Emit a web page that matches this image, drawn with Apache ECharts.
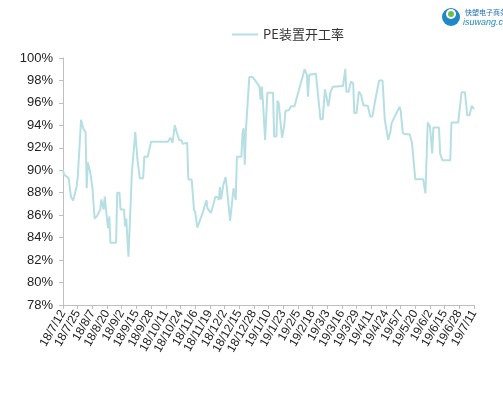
<!DOCTYPE html>
<html>
<head>
<meta charset="utf-8">
<script src="https://cdn.jsdelivr.net/npm/echarts@6/dist/echarts.min.js"></script>
<style>
  html, body { margin: 0; padding: 0; background: #fff; }
  #chart { width: 503px; height: 397px; }
</style>
</head>
<body>
<div id="chart"></div>
<script>
// x-axis tick labels, one every 13 days from 2018-07-12
const tickLabels = [
  "18/7/12", "18/7/25", "18/8/7", "18/8/20", "18/9/2", "18/9/15", "18/9/28",
  "18/10/11", "18/10/24", "18/11/6", "18/11/19", "18/12/2", "18/12/15", "18/12/28",
  "19/1/10", "19/1/23", "19/2/5", "19/2/18", "19/3/3", "19/3/16", "19/3/29",
  "19/4/11", "19/4/24", "19/5/7", "19/5/20", "19/6/2", "19/6/15", "19/6/28", "19/7/11"
];

// days since 2018-07-12
const days = [
  0, 1, 5, 7, 9, 12, 13, 14, 16, 18, 20, 21, 22, 24, 26, 28, 30, 33, 34, 35,
  36, 37, 39, 40, 41, 42, 44, 45, 47, 48, 50, 51, 54, 55, 56, 58, 61, 64, 66, 68,
  71, 72, 75, 78, 93, 95, 97, 99, 101, 103, 105, 106, 107, 110, 111, 114, 116, 117, 119, 120,
  124, 125, 127, 128, 131, 133, 135, 137, 138, 139, 140, 142, 144, 145, 148, 151, 153, 154, 158, 159,
  160, 161, 162, 165, 168, 171, 174, 175, 176, 177, 179, 181, 186, 187, 189, 190, 191, 194, 196, 197,
  200, 202, 205, 214, 216, 217, 218, 224, 225, 228, 230, 232, 233, 235, 237, 239, 248, 250, 251, 253,
  255, 257, 258, 260, 262, 264, 266, 270, 272, 274, 277, 278, 280, 283, 285, 288, 290, 291, 292, 298,
  299, 300, 301, 304, 307, 309, 312, 319, 321, 322, 323, 325, 327, 328, 333, 334, 335, 336, 343, 344,
  350, 353, 356, 358, 360, 362, 364
];

// PE装置开工率 (%)
const rates = [
  90.0, 89.6, 89.3, 87.65, 87.3, 88.5, 89.3, 89.3, 94.5, 93.7, 93.4, 88.4, 90.7, 89.9, 88.5, 85.7, 85.9, 86.5, 87.4, 86.9,
  86.5, 87.65, 85.6, 84.85, 85.9, 83.55, 83.55, 83.65, 83.55, 88.0, 88.0, 86.5, 86.5, 85.0, 85.7, 82.3, 89.8, 93.4, 90.9, 89.3,
  89.3, 91.2, 91.2, 92.55, 92.55, 92.9, 92.45, 94.0, 93.3, 92.7, 92.65, 92.35, 92.45, 92.45, 89.2, 89.15, 86.5, 86.3, 84.9, 84.9,
  86.3, 86.3, 87.35, 86.6, 86.2, 86.9, 87.65, 87.6, 87.35, 88.5, 87.4, 88.7, 89.4, 88.6, 85.5, 88.4, 87.35, 91.2, 91.2, 93.3,
  93.75, 90.5, 93.6, 98.3, 98.3, 97.9, 97.45, 96.3, 97.45, 96.25, 92.7, 96.9, 96.9, 93.0, 93.0, 96.2, 96.0, 92.9, 94.0, 95.3,
  95.35, 95.7, 95.7, 99.0, 98.5, 96.55, 98.5, 98.6, 98.55, 94.55, 94.55, 97.2, 96.7, 95.7, 97.0, 97.45, 97.5, 99.0, 97.0, 97.0,
  97.9, 97.75, 95.1, 95.1, 97.0, 96.7, 95.8, 95.75, 94.8, 94.8, 96.5, 96.5, 98.0, 98.0, 94.5, 92.7, 93.45, 94.2, 94.05, 95.65,
  95.35, 95.3, 93.3, 93.2, 93.2, 92.5, 89.2, 89.2, 87.95, 87.95, 94.25, 93.9, 91.5, 93.8, 93.8, 91.5, 91.4, 90.9, 90.9, 94.25,
  94.25, 96.95, 96.95, 94.9, 94.9, 95.75, 95.45
];

const chart = echarts.init(document.getElementById("chart"));
chart.setOption({
  animation: false,
  textStyle: { fontFamily: "Liberation Sans, Arial, Noto Sans CJK SC, sans-serif" },
  legend: {
    top: 23,
    left: 227,
    icon: "rect",
    itemWidth: 26,
    itemHeight: 2,
    itemGap: 4,
    textStyle: { fontSize: 13, color: "#333", fontFamily: "Noto Sans CJK SC, sans-serif" },
    data: ["PE装置开工率"]
  },
  graphic: [
    {
      type: "circle",
      shape: { cx: 451, cy: 17, r: 9 },
      style: { fill: "#1e88c8" }
    },
    {
      type: "circle",
      shape: { cx: 451, cy: 14, r: 5 },
      style: { fill: "#ffffff" }
    },
    {
      type: "circle",
      shape: { cx: 451, cy: 14, r: 3 },
      style: { fill: "#6cc04a" }
    },
    {
      type: "text",
      left: 465,
      top: 9,
      style: { text: "快塑电子商务", fontSize: 7, fill: "#1e6fb8", fontFamily: "Noto Sans CJK SC" }
    },
    {
      type: "text",
      left: 463,
      top: 18,
      style: { text: "isuwang.com", fontSize: 9, fontStyle: "italic", fill: "#1e88c8", fontFamily: "Liberation Sans" }
    }
  ],
  grid: { left: 63, right: 29, top: 58, bottom: 92 },
  xAxis: {
    type: "value",
    min: 0,
    max: 364,
    interval: 13,
    axisLine: { lineStyle: { color: "#bfbfbf" } },
    axisTick: { show: true, length: 4, lineStyle: { color: "#bfbfbf" } },
    splitLine: { show: false },
    axisLabel: {
      rotate: 60,
      fontSize: 12,
      color: "#222",
      margin: 6,
      hideOverlap: false,
      showMinLabel: true,
      showMaxLabel: true,
      formatter: v => tickLabels[Math.round(v / 13)] || ""
    }
  },
  yAxis: {
    type: "value",
    min: 78,
    max: 100,
    interval: 2,
    axisLine: { show: true, lineStyle: { color: "#bfbfbf" } },
    axisTick: { show: true, length: 4, lineStyle: { color: "#bfbfbf" } },
    splitLine: { show: false },
    axisLabel: { fontSize: 13, color: "#222", margin: 10, formatter: "{value}%" }
  },
  series: [
    {
      name: "PE装置开工率",
      type: "line",
      symbol: "none",
      data: days.map((d, i) => [d, rates[i]]),
      lineStyle: { color: "#b6dfe3", width: 2 },
      itemStyle: { color: "#b6dfe3" }
    }
  ]
});
</script>
</body>
</html>
